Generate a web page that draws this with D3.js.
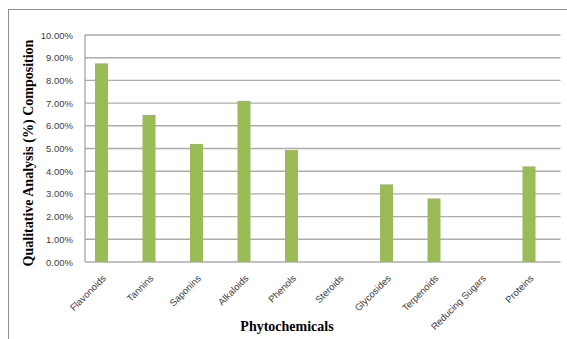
<!DOCTYPE html>
<html><head><meta charset="utf-8">
<script src="https://cdn.jsdelivr.net/npm/d3@7"></script>
<style>body{margin:0;background:#fff}svg{display:block}</style>
</head><body>
<svg id="c" width="567" height="339"></svg>
<script>
const categories = ["Flavonoids","Tannins","Saponins","Alkaloids","Phenols","Steroids","Glycosides","Terpenoids","Reducing Sugars","Proteins"];
const values = [8.75, 6.48, 5.2, 7.1, 4.93, 0, 3.42, 2.8, 0, 4.21];
const yTicks = [0,1,2,3,4,5,6,7,8,9,10];

const svg = d3.select("#c");
const mLeft = 85, mRight = 560.5, mTop = 35, mBottom = 262;
const bandStart = 77.75, bandEnd = 552.75;

svg.append("rect").attr("x",8.5).attr("y",9.5).attr("width",600).attr("height",400)
  .attr("fill","none").attr("stroke","#8f8f8f").attr("stroke-width",1);

const x = d3.scaleBand().domain(categories).range([bandStart, bandEnd]).paddingInner(0.726).paddingOuter(0.363);
const y = d3.scaleLinear().domain([0,10]).range([mBottom, mTop]);

// gridlines
svg.append("g").selectAll("line").data(yTicks).join("line")
  .attr("x1", mLeft).attr("x2", mRight)
  .attr("y1", d=>y(d)).attr("y2", d=>y(d))
  .attr("stroke","#acacac").attr("stroke-width",1.4);

// y axis line
svg.append("line").attr("x1",mLeft).attr("x2",mLeft).attr("y1",mTop).attr("y2",mBottom)
  .attr("stroke","#acacac").attr("stroke-width",1.4);

// bars
svg.append("g").selectAll("rect").data(values).join("rect")
  .attr("x",(d,i)=>x(categories[i]))
  .attr("width",x.bandwidth())
  .attr("y",d=>y(d))
  .attr("height",d=>y(0)-y(d))
  .attr("fill","#9bbb59");

// y tick labels
const yAxis = d3.axisLeft(y).tickValues(yTicks).tickFormat(d=>d.toFixed(2)+"%").tickSize(0).tickPadding(12);
const ya = svg.append("g").attr("transform",`translate(${mLeft},0)`).call(yAxis);
ya.select(".domain").remove();
ya.selectAll("text").attr("font-family","'Liberation Sans', Arial, sans-serif").attr("font-size","9.5px").attr("fill","#404040");

// x tick labels rotated
const xAxis = d3.axisBottom(x).tickSize(0).tickPadding(0);
const xa = svg.append("g").attr("transform",`translate(0,${mBottom})`).call(xAxis);
xa.select(".domain").remove();
xa.selectAll("text")
  .attr("font-family","'Liberation Sans', Arial, sans-serif").attr("font-size","9.5px").attr("fill","#404040")
  .attr("text-anchor","end")
  .attr("dy",0)
  .attr("transform","translate(5,17) rotate(-45)");

// axis titles
svg.append("text").attr("x",287).attr("y",331)
  .attr("text-anchor","middle").attr("font-family","'Liberation Serif', 'Times New Roman', serif")
  .attr("font-weight","bold").attr("font-size","14px").attr("fill","#000").text("Phytochemicals");

svg.append("text").attr("transform","translate(33,153) rotate(-90)")
  .attr("text-anchor","middle").attr("font-family","'Liberation Serif', 'Times New Roman', serif")
  .attr("font-weight","bold").attr("font-size","14px").attr("fill","#000").text("Qualitative Analysis (%) Composition");
</script>
</body></html>
